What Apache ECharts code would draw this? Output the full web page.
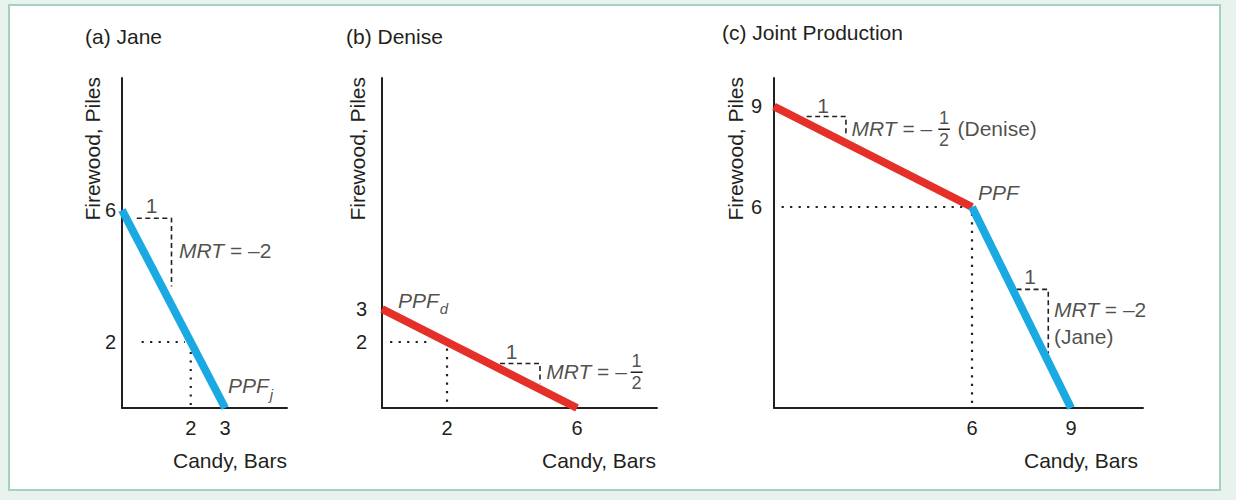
<!DOCTYPE html>
<html>
<head>
<meta charset="utf-8">
<script src="https://cdn.jsdelivr.net/npm/echarts@6/dist/echarts.min.js"></script>
<style>
  html, body { margin:0; padding:0; background:#e8f3ee; }
  #wrap { position:relative; width:1236px; height:500px; background:#e8f3ee; }
  #frame { position:absolute; left:8px; top:4px; width:1209px; height:483px; background:#fff; border:2px solid #a3d3bf; }
  #chart { position:absolute; left:0; top:0; width:1236px; height:500px; }
</style>
</head>
<body>
<div id="wrap"><div id="frame"></div><div id="chart"></div></div>
<script>
// ---------- data ----------
const panelTitles = ['(a) Jane', '(b) Denise', '(c) Joint Production'];
const yName = 'Firewood, Piles';
const xName = 'Candy, Bars';

// PPFs (candy, firewood)
const janePPF = [[0, 6], [3, 0]];
const denisePPF = [[0, 3], [6, 0]];
const jointDenisePart = [[0, 9], [6, 6]];
const jointJanePart = [[6, 6], [9, 0]];

// tick labels
const janeXTicks = [2, 3];
const janeYTicks = [2, 6];
const deniseXTicks = [2, 6];
const deniseYTicks = [2, 3];
const jointXTicks = [6, 9];
const jointYTicks = [6, 9];

// axis ranges
const janeXMax = 4.8, deniseXMax = 8.46, jointXMax = 11.18;
const janeYMax = 10, deniseYMax = 10, jointYMax = 9.85;

// dotted guide lines
const janeGuideH = [[0.57, 2], [1.83, 2]];
const janeGuideV = [[2, 1.7], [2, 0]];
const deniseGuideH = [[0.25, 2], [1.53, 2]];
const deniseGuideV = [[2, 1.8], [2, 0]];
const jointGuideH = [[0.23, 6], [5.75, 6]];
const jointGuideV = [[6, 5.8], [6, 0]];

// dashed MRT steps
const janeStep = [[0.43, 5.75], [1.44, 5.75], [1.44, 3.68]];
const deniseStep = [[3.63, 1.35], [4.86, 1.35], [4.86, 0.75]];
const jointDeniseStep = [[0.99, 8.7], [2.18, 8.7], [2.18, 8.2]];
const jointJaneStep = [[7.35, 3.54], [8.31, 3.54], [8.31, 1.63]];

// fraction bars
const deniseFracBar = [[7.65, 1.08], [8.02, 1.08]];
const jointFracBar = [[4.98, 8.32], [5.33, 8.32]];

// text annotations: [x, y, text, anchor]
const janeLabels = [
  [0.86, 6.15, '1', 'c'],
  [1.66, 4.77, '{i|MRT} = –2', 'l'],
  [3.08, 0.67, '{i|PPF}{s|j}', 'l']
];
const deniseLabels = [
  [0.49, 3.27, '{i|PPF}{s|d}', 'l'],
  [3.99, 1.71, '1', 'c'],
  [5.05, 1.1, '{i|MRT} = –', 'l'],
  [7.83, 1.43, '{f|1}', 'c'],
  [7.83, 0.75, '{f|2}', 'c']
];
const jointLabels = [
  [1.49, 9.04, '1', 'c'],
  [2.35, 8.35, '{i|MRT} = –', 'l'],
  [5.15, 8.65, '{f|1}', 'c'],
  [5.15, 8.0, '{f|2}', 'c'],
  [5.56, 8.35, '(Denise)', 'l'],
  [6.18, 6.42, '{i|PPF}', 'l'],
  [7.76, 3.92, '1', 'c'],
  [8.48, 2.93, '{i|MRT} = –2', 'l'],
  [8.48, 2.13, '(Jane)', 'l']
];

// ---------- styles ----------
const INK = '#231f20';
const BLUE = '#1aa9e2';
const RED = '#e5302a';
const FONT = '"Liberation Sans", Arial, Helvetica, sans-serif';
const FS = 21;
const TICK_FS = 20;

const rich = {
  i: { fontStyle: 'italic', fontSize: FS, fontFamily: FONT, color: INK },
  s: { fontStyle: 'italic', fontSize: 15, fontFamily: FONT, color: INK, padding: [17, 0, 0, 1] },
  f: { fontSize: 18, fontFamily: FONT, color: INK }
};

const grids = [
  { left: 122, top: 78, width: 165, height: 330 },
  { left: 382, top: 78, width: 275, height: 330 },
  { left: 774, top: 78, width: 369, height: 330 }
];
const xMaxes = [janeXMax, deniseXMax, jointXMax];
const yMaxes = [janeYMax, deniseYMax, jointYMax];
const xTicks = [janeXTicks, deniseXTicks, jointXTicks];
const yTicks = [janeYTicks, deniseYTicks, jointYTicks];
const yLabelMargins = [6, 15, 12];

function xAxisFor(i) {
  return {
    type: 'value', gridIndex: i, min: 0, max: xMaxes[i],
    splitLine: { show: false }, axisTick: { show: false },
    axisLine: { show: true, onZero: false, lineStyle: { color: INK, width: 2 } },
    axisLabel: { customValues: xTicks[i], color: INK, fontSize: TICK_FS, fontFamily: FONT, margin: 10 }
  };
}
function yAxisFor(i) {
  return {
    type: 'value', gridIndex: i, min: 0, max: yMaxes[i],
    splitLine: { show: false }, axisTick: { show: false },
    axisLine: { show: true, onZero: false, lineStyle: { color: INK, width: 2 } },
    axisLabel: { customValues: yTicks[i], color: INK, fontSize: TICK_FS, fontFamily: FONT, margin: yLabelMargins[i] }
  };
}

function ppf(i, data, color) {
  return { type: 'line', xAxisIndex: i, yAxisIndex: i, data: data, symbol: 'none', silent: true, z: 5,
    lineStyle: { color: color, width: 8, cap: 'butt' } };
}
function dotted(i, data) {
  return { type: 'line', xAxisIndex: i, yAxisIndex: i, data: data, symbol: 'none', silent: true, z: 3,
    lineStyle: { color: INK, width: 2.2, type: [2.2, 6.3] } };
}
function dashed(i, data) {
  return { type: 'line', xAxisIndex: i, yAxisIndex: i, data: data, symbol: 'none', silent: true, z: 3,
    lineStyle: { color: INK, width: 1.6, type: [5, 3.5] } };
}
function solidThin(i, data) {
  return { type: 'line', xAxisIndex: i, yAxisIndex: i, data: data, symbol: 'none', silent: true, z: 3,
    lineStyle: { color: INK, width: 1.5 } };
}
function labels(i, list) {
  return {
    type: 'scatter', xAxisIndex: i, yAxisIndex: i, symbolSize: 0, silent: true, z: 6,
    data: list.map(function (d) {
      return {
        value: [d[0], d[1]],
        label: {
          show: true, formatter: d[2], rich: rich,
          position: d[3] === 'l' ? 'right' : 'inside', distance: 0,
          color: INK, fontSize: FS, fontFamily: FONT
        }
      };
    })
  };
}

const titleTops = [26, 26, 22];
const titleLefts = [85, 346, 722];

const graphics = [];
const yNameX = [92, 357, 735];
const xNameRight = [287, 656, 1138];
for (let i = 0; i < 3; i++) {
  graphics.push({
    type: 'text', x: yNameX[i], y: 77, rotation: Math.PI / 2,
    style: { text: yName, fill: INK, font: FS + 'px ' + FONT, textAlign: 'right', textVerticalAlign: 'middle' }
  });
  graphics.push({
    type: 'text', x: xNameRight[i], y: 460,
    style: { text: xName, fill: INK, font: FS + 'px ' + FONT, textAlign: 'right', textVerticalAlign: 'middle' }
  });
}

const option = {
  animation: false,
  backgroundColor: 'transparent',
  title: panelTitles.map(function (t, i) {
    return { text: t, left: titleLefts[i], top: titleTops[i], padding: 0,
      textStyle: { fontSize: FS, fontWeight: 'normal', color: INK, fontFamily: FONT } };
  }),
  graphic: graphics,
  grid: grids,
  xAxis: [xAxisFor(0), xAxisFor(1), xAxisFor(2)],
  yAxis: [yAxisFor(0), yAxisFor(1), yAxisFor(2)],
  series: [
    dotted(0, janeGuideH), dotted(0, janeGuideV), dashed(0, janeStep),
    ppf(0, janePPF, BLUE), labels(0, janeLabels),

    dotted(1, deniseGuideH), dotted(1, deniseGuideV), dashed(1, deniseStep),
    solidThin(1, deniseFracBar),
    ppf(1, denisePPF, RED), labels(1, deniseLabels),

    dotted(2, jointGuideH), dotted(2, jointGuideV),
    dashed(2, jointDeniseStep), dashed(2, jointJaneStep),
    solidThin(2, jointFracBar),
    ppf(2, jointDenisePart, RED), ppf(2, jointJanePart, BLUE), labels(2, jointLabels)
  ]
};

const chart = echarts.init(document.getElementById('chart'), null, { renderer: 'svg', width: 1236, height: 500 });
chart.setOption(option);
</script>
</body>
</html>
